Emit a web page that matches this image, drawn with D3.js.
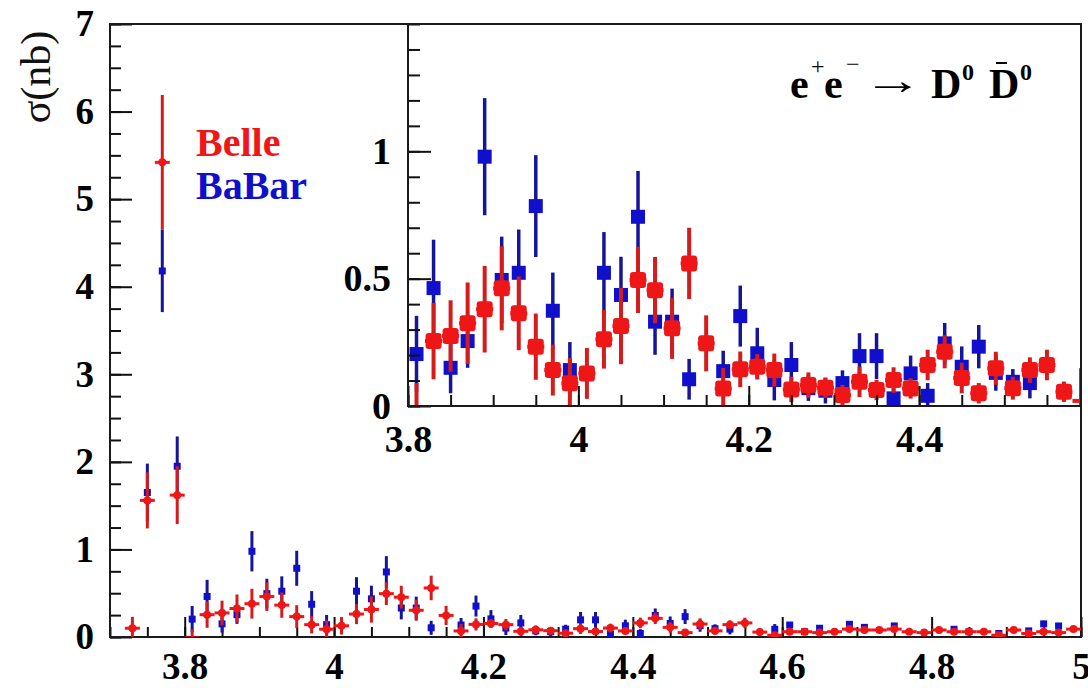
<!DOCTYPE html>
<html>
<head>
<meta charset="utf-8">
<script src="https://cdn.jsdelivr.net/npm/d3@7"></script>
<style>
  body { margin: 0; background: #fff; }
  svg text { font-family: "Liberation Serif", "Times New Roman", serif; }
</style>
</head>
<body>
<svg id="chart" width="1088" height="688"></svg>
<script>
// e+e- -> D0 D0bar cross section, Belle vs BaBar (sqrt(s) in GeV, sigma in nb)
const belleX = [3.73,3.75,3.77,3.79,3.81,3.83,3.85,3.87,3.89,3.91,
                3.93,3.95,3.97,3.99,4.01,4.03,4.05,4.07,4.09,4.11,
                4.13,4.15,4.17,4.19,4.21,4.23,4.25,4.27,4.29,4.31,
                4.33,4.35,4.37,4.39,4.41,4.43,4.45,4.47,4.49,4.51,
                4.53,4.55,4.57,4.59,4.61,4.63,4.65,4.67,4.69,4.71,
                4.73,4.75,4.77,4.79,4.81,4.83,4.85,4.87,4.89,4.91,
                4.93,4.95,4.97,4.99];
const belleY = [0.10,1.56,5.42,1.62,-0.01,0.255,0.275,0.325,0.38,0.462,
                0.364,0.233,0.141,0.089,0.128,0.262,0.314,0.495,0.455,0.305,
                0.56,0.246,0.069,0.144,0.154,0.141,0.065,0.082,0.072,0.043,
                0.095,0.063,0.102,0.069,0.161,0.213,0.11,0.05,0.148,0.07,
                0.141,0.161,0.056,0.02,0.06,0.06,0.05,0.06,0.09,0.08,
                0.08,0.09,0.06,0.05,0.08,0.06,0.06,0.06,0.02,0.08,
                0.04,0.06,0.05,0.09];
const belleErr = [0.13,0.32,0.77,0.33,0.10,0.15,0.14,0.16,0.17,0.165,
                  0.145,0.13,0.10,0.10,0.10,0.115,0.15,0.13,0.13,0.12,
                  0.14,0.11,0.08,0.07,0.05,0.065,0.05,0.05,0.04,0.04,
                  0.06,0.04,0.05,0.04,0.06,0.065,0.06,0.04,0.065,0.045,
                  0.05,0.06,0.04,0.03,0.03,0.03,0.03,0.03,0.035,0.03,
                  0.03,0.035,0.03,0.03,0.03,0.03,0.03,0.03,0.025,0.03,
                  0.03,0.03,0.03,0.035];

const babarX = [3.75,3.77,3.79,3.81,3.83,3.85,3.87,3.89,3.91,3.93,
                3.95,3.97,3.99,4.03,4.05,4.07,4.09,4.11,4.13,4.17,
                4.19,4.21,4.23,4.25,4.27,4.29,4.31,4.33,4.35,4.37,
                4.39,4.41,4.43,4.45,4.47,4.49,4.51,4.53,4.59,4.61,
                4.63,4.65,4.69,4.71,4.75,4.83,4.85,4.89,4.93,4.95,
                4.97];
const babarY = [1.65,4.18,1.95,0.204,0.463,0.15,0.255,0.979,0.495,0.523,
                0.785,0.374,0.141,0.523,0.436,0.743,0.331,0.331,0.105,0.137,
                0.353,0.207,0.102,0.161,0.07,0.06,0.09,0.196,0.196,0.03,
                0.128,0.04,0.246,0.154,0.233,0.13,0.095,0.09,0.088,0.137,
                0.06,0.10,0.145,0.11,0.126,0.088,0.06,0.04,0.07,0.15,
                0.126];
const babarErr = [0.33,0.47,0.34,0.15,0.19,0.10,0.105,0.23,0.17,0.17,
                  0.20,0.15,0.11,0.16,0.15,0.18,0.13,0.13,0.08,0.08,
                  0.12,0.10,0.08,0.09,0.05,0.05,0.05,0.09,0.09,0.05,
                  0.07,0.05,0.08,0.08,0.085,0.07,0.05,0.06,0.06,0.03,
                  0.03,0.03,0.035,0.03,0.03,0.03,0.03,0.02,0.03,0.035,
                  0.03];

const binHalfWidth = 0.01;

// axis ticks
const mainXTicks = [3.8, 4, 4.2, 4.4, 4.6, 4.8, 5];
const mainYTicks = [0, 1, 2, 3, 4, 5, 6, 7];
const insetXTicks = [3.8, 4, 4.2, 4.4];
const insetYTicks = [0, 0.5, 1];

const legendLabels = ["Belle", "BaBar"];

// colours
const RED = "#ee1616", RED_BAR = "#d41c1c";
const BLUE = "#1010cc", BLUE_BAR = "#15159a";

const svg = d3.select("#chart");
const fmt = d3.format("~g");

// ---------- frames ----------
const mainBox  = { l: 110, r: 1081, t: 24, b: 637 };
const insetBox = { l: 408, r: 1081, t: 24, b: 406 };

const xMain = d3.scaleLinear().domain([3.7, 5.0]).range([mainBox.l, mainBox.r]);
const yMain = d3.scaleLinear().domain([0, 7]).range([mainBox.b, mainBox.t]);
const xIn = d3.scaleLinear().domain([3.8, 4.59]).range([insetBox.l, insetBox.r]);
const yIn = d3.scaleLinear().domain([0, 1.5]).range([insetBox.b, insetBox.t]);

const defs = svg.append("defs");
defs.append("clipPath").attr("id", "clipMain").append("rect")
  .attr("x", mainBox.l).attr("y", mainBox.t)
  .attr("width", mainBox.r - mainBox.l).attr("height", mainBox.b - mainBox.t);
defs.append("clipPath").attr("id", "clipInset").append("rect")
  .attr("x", insetBox.l).attr("y", insetBox.t)
  .attr("width", insetBox.r - insetBox.l).attr("height", insetBox.b - insetBox.t);

function minorRange(lo, hi, step) {
  const out = [];
  const start = Math.ceil(lo / step - 1e-9) * step;
  const n = Math.floor((hi - start) / step + 1e-9);
  for (let i = 0; i <= n; i++) out.push(+(start + i * step).toFixed(4));
  return out;
}

function drawAxes(box, xs, ys, xTicks, yTicks, xMinorStep, yMinorStep, opt) {
  const g = svg.append("g");
  // minor ticks
  g.append("g").attr("transform", `translate(0,${box.b})`)
    .call(d3.axisBottom(xs).tickValues(minorRange(xs.domain()[0], xs.domain()[1], xMinorStep))
          .tickSize(-opt.xMinor).tickFormat(""))
    .call(a => a.select(".domain").remove());
  g.append("g").attr("transform", `translate(${box.l},0)`)
    .call(d3.axisLeft(ys).tickValues(minorRange(ys.domain()[0], ys.domain()[1], yMinorStep))
          .tickSize(-opt.yMinor).tickFormat(""))
    .call(a => a.select(".domain").remove());
  // major ticks with labels
  const ax = g.append("g").attr("transform", `translate(0,${box.b})`)
    .call(d3.axisBottom(xs).tickValues(xTicks).tickSize(-opt.xMajor)
          .tickPadding(opt.xPad).tickFormat(fmt));
  ax.select(".domain").remove();
  const ay = g.append("g").attr("transform", `translate(${box.l},0)`)
    .call(d3.axisLeft(ys).tickValues(yTicks).tickSize(-opt.yMajor)
          .tickPadding(opt.yPad).tickFormat(fmt));
  ay.select(".domain").remove();
  g.selectAll(".tick line").attr("stroke", "#111").attr("stroke-width", 2);
  g.selectAll(".tick text")
    .attr("fill", "#000")
    .style("font-family", '"Liberation Serif", "Times New Roman", serif')
    .style("font-weight", "bold");
  ax.selectAll(".tick text").style("font-size", opt.xFont + "px");
  ay.selectAll(".tick text").style("font-size", opt.yFont + "px");
  // frame
  g.append("rect")
    .attr("x", box.l).attr("y", box.t)
    .attr("width", box.r - box.l).attr("height", box.b - box.t)
    .attr("fill", "none").attr("stroke", "#1a1a1a").attr("stroke-width", 2);
  return g;
}

function drawBabar(layer, xs, ys, size, barW) {
  const pts = babarX.map((x, i) => ({ x, y: babarY[i], e: babarErr[i] }));
  const [d0, d1] = xs.domain(), [y0, y1] = ys.domain();
  layer.selectAll(null).data(pts).join("line")
    .attr("x1", d => xs(d.x)).attr("x2", d => xs(d.x))
    .attr("y1", d => ys(d.y - d.e)).attr("y2", d => ys(d.y + d.e))
    .attr("stroke", BLUE_BAR).attr("stroke-width", barW);
  layer.selectAll(null)
    .data(pts.filter(d => d.x > d0 && d.x < d1 - 1e-9 && d.y >= y0 && d.y <= y1))
    .join("rect")
    .attr("x", d => xs(d.x) - size / 2).attr("y", d => ys(d.y) - size / 2)
    .attr("width", size).attr("height", size)
    .attr("fill", BLUE);
}

function drawBelle(layer, xs, ys, marker, barW) {
  const pts = belleX.map((x, i) => ({ x, y: belleY[i], e: belleErr[i] }));
  const [d0, d1] = xs.domain(), [y0, y1] = ys.domain();
  layer.selectAll(null).data(pts).join("line")
    .attr("x1", d => xs(d.x)).attr("x2", d => xs(d.x))
    .attr("y1", d => ys(d.y - d.e)).attr("y2", d => ys(d.y + d.e))
    .attr("stroke", RED_BAR).attr("stroke-width", barW);
  layer.selectAll(null).data(pts).join("line")
    .attr("x1", d => xs(d.x - binHalfWidth)).attr("x2", d => xs(d.x + binHalfWidth))
    .attr("y1", d => ys(d.y)).attr("y2", d => ys(d.y))
    .attr("stroke", RED).attr("stroke-width", barW);
  layer.selectAll(null)
    .data(pts.filter(d => d.x > d0 && d.x < d1 - 1e-9 && d.y >= y0 && d.y <= y1))
    .join("rect")
    .attr("x", d => xs(d.x) - marker.w / 2).attr("y", d => ys(d.y) - marker.h / 2)
    .attr("width", marker.w).attr("height", marker.h)
    .attr("rx", marker.rx).attr("ry", marker.rx)
    .attr("fill", RED);
}

// ---------- main pad ----------
svg.append("rect").attr("width", 1088).attr("height", 688).attr("fill", "#fff");

drawAxes(mainBox, xMain, yMain, mainXTicks, mainYTicks, 0.05, 0.25,
  { xMajor: 20, xMinor: 10, yMajor: 22, yMinor: 11, xPad: 16, yPad: 16, xFont: 37, yFont: 37 });

const mainData = svg.append("g").attr("clip-path", "url(#clipMain)");
drawBabar(mainData, xMain, yMain, 7, 3);
drawBelle(mainData, xMain, yMain, { w: 8, h: 8, rx: 4 }, 3);

// y-axis title
svg.append("text")
  .attr("transform", "translate(50,77) rotate(-90)")
  .attr("text-anchor", "middle")
  .style("font-size", "42px")
  .attr("fill", "#111")
  .text("σ(nb)");

// legend
const legendColors = [RED, BLUE];
svg.selectAll(null).data(legendLabels).join("text")
  .attr("x", 196).attr("y", (d, i) => 156 + i * 43)
  .style("font-size", "40px").style("font-weight", "bold")
  .attr("fill", (d, i) => legendColors[i])
  .text(d => d);

// ---------- inset pad ----------
svg.append("rect")
  .attr("x", insetBox.l).attr("y", insetBox.t)
  .attr("width", insetBox.r - insetBox.l).attr("height", insetBox.b - insetBox.t)
  .attr("fill", "#fff");

const insetData = svg.append("g").attr("clip-path", "url(#clipInset)");
drawBabar(insetData, xIn, yIn, 14, 3.5);
drawBelle(insetData, xIn, yIn, { w: 16, h: 16, rx: 3 }, 4);

drawAxes(insetBox, xIn, yIn, insetXTicks, insetYTicks, 0.05, 0.1,
  { xMajor: 20, xMinor: 11, yMajor: 23, yMinor: 12, xPad: 19, yPad: 17, xFont: 38, yFont: 38 });

// process label
const title = svg.append("g").attr("fill", "#000");
const tBase = 98;
function tpart(x, y, str, size, weight, sx) {
  const t = title.append("text")
    .style("font-size", size + "px").style("font-weight", weight).text(str);
  if (sx) t.attr("transform", `translate(${x},${y}) scale(${sx},1)`);
  else t.attr("x", x).attr("y", y);
}
tpart(790, tBase, "e", 42, "bold");
tpart(811, tBase - 24, "+", 24, "normal");
tpart(824, tBase, "e", 42, "bold");
tpart(846, tBase - 26, "\u2212", 24, "normal");
tpart(863, tBase - 4, "\u2192", 40, "normal", 1.5);
tpart(931, tBase, "D", 42, "bold");
tpart(962, tBase - 18, "0", 24, "bold");
tpart(989, tBase, "D", 42, "bold");
tpart(1020, tBase - 18, "0", 24, "bold");
// bar over the anti-D
title.append("line")
  .attr("x1", 996).attr("x2", 1007).attr("y1", 63).attr("y2", 63)
  .attr("stroke", "#000").attr("stroke-width", 2);
</script>
</body>
</html>
